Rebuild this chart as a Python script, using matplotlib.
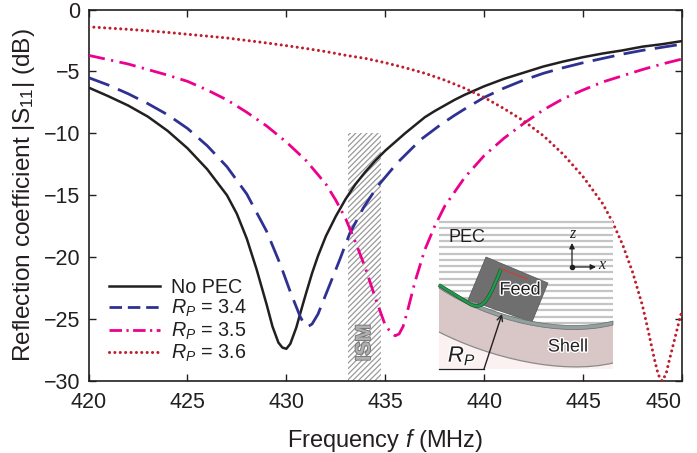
import matplotlib
matplotlib.use('Agg')
import matplotlib.pyplot as plt
import matplotlib.patheffects as pe
from matplotlib.patches import Rectangle, Polygon, PathPatch
from matplotlib.path import Path

plt.rcParams['font.family'] = ['Liberation Sans', 'DejaVu Sans']
plt.rcParams['mathtext.fontset'] = 'custom'
plt.rcParams['mathtext.rm'] = 'Liberation Sans'
plt.rcParams['mathtext.it'] = 'Liberation Sans:italic'
plt.rcParams['hatch.linewidth'] = 0.9

x_ticks = [420, 425, 430, 435, 440, 445, 450]
y_ticks = [0, -5, -10, -15, -20, -25, -30]

f_nopec = [420, 421, 422, 423, 424, 425, 426, 427, 427.5, 428, 428.5, 429, 429.3, 429.6, 429.8, 430, 430.2, 430.5, 430.8, 431, 431.3, 431.6,
           432, 432.5, 433, 433.5, 434, 434.5, 435, 435.5, 436, 436.5, 437, 437.5, 438, 438.5, 439, 439.5, 440, 441, 442, 443, 444, 445, 446, 447, 448, 449, 450]
s_nopec = [-6.3, -7.0, -7.75, -8.65, -9.8, -11.2, -12.9, -15.0, -16.5, -18.5, -21.0, -23.8, -25.6, -26.9, -27.3, -27.4, -27.0, -25.7, -24.0, -22.9, -21.3, -19.9,
           -18.3, -16.7, -15.3, -14.1, -13.1, -12.2, -11.4, -10.7, -10.0, -9.35, -8.7, -8.2, -7.75, -7.3, -6.9, -6.55, -6.2, -5.6, -5.1, -4.6, -4.2, -3.85, -3.55, -3.3, -3.0, -2.8, -2.55]

f_34 = [420, 421, 422, 423, 424, 425, 426, 427, 428, 429, 429.7, 430.2, 430.7, 430.9, 431.1, 431.3, 431.6, 432, 432.7, 433.2,
        433.9, 434.6, 435.6, 436.8, 437.8, 438.5, 439, 440, 441, 442, 443, 444, 445, 446, 447, 448, 449, 450]
s_34 = [-5.5, -6.1, -6.8, -7.6, -8.5, -9.6, -11.0, -12.7, -14.9, -17.9, -20.6, -22.8, -24.8, -25.4, -25.6, -25.4, -24.6, -23.0, -20.2, -18.1,
        -16.0, -14.3, -12.4, -10.5, -9.3, -8.55, -8.05, -7.1, -6.35, -5.7, -5.15, -4.7, -4.3, -3.95, -3.6, -3.3, -3.05, -2.8]

f_35 = [420, 421, 422, 423, 424, 425, 426, 427, 428, 429, 430, 431, 432, 432.5, 433, 433.5, 434, 434.5, 435, 435.3, 435.5, 435.7, 435.9,
        436.1, 436.5, 437, 437.5, 438, 439, 440, 441, 442, 443, 444, 445, 446, 447, 448, 449, 450]
s_35 = [-3.7, -4.05, -4.4, -4.85, -5.3, -5.8, -6.5, -7.3, -8.3, -9.4, -10.7, -12.2, -14.1, -15.4, -16.9, -18.8, -20.9, -23.3, -25.5, -26.1, -26.35, -26.2, -25.6,
        -24.5, -22.0, -19.4, -17.5, -15.9, -13.6, -11.8, -10.4, -9.2, -8.1, -7.2, -6.5, -5.85, -5.35, -4.85, -4.4, -4.0]

f_36 = [420, 421, 422, 423, 424, 425, 426, 427, 428, 429, 430, 431, 432, 433, 434, 435, 436, 437, 438, 439, 440, 441, 442, 443, 444, 445, 446,
        446.5, 447, 447.5, 448, 448.3, 448.6, 448.8, 449, 449.2, 449.3, 449.6, 449.85, 450]
s_36 = [-1.4, -1.5, -1.6, -1.72, -1.85, -2.0, -2.15, -2.3, -2.5, -2.7, -2.92, -3.15, -3.4, -3.7, -3.95, -4.3, -4.7, -5.15, -5.7, -6.35, -7.1, -8.0, -9.0, -10.2, -11.7, -13.5, -15.7,
        -17.2, -19.0, -21.2, -23.9, -26.0, -28.2, -29.5, -30.0, -29.4, -28.7, -26.8, -25.2, -24.3]

ism_band = [433.1, 434.8]
ism_levels = [-30, -10]

legend_labels = ['No PEC', r'$R_P$ = 3.4', r'$R_P$ = 3.5', r'$R_P$ = 3.6']

fig = plt.figure(figsize=(6.97, 4.53), dpi=100)
W, H = 697, 453
ax = fig.add_axes([88.5 / W, 1 - 381 / H, (682 - 88.5) / W, (381 - 9.5) / H])

ax.add_patch(Rectangle((ism_band[0], ism_levels[0]), ism_band[1] - ism_band[0], ism_levels[1] - ism_levels[0],
                       facecolor='white', edgecolor='#9a9a9a', hatch='//////', lw=0, zorder=1))
ax.text(sum(ism_band) / 2, -26.9, 'ISM', rotation=90, ha='center', va='center', fontsize=15, fontweight='bold',
        color='#b0b0b0', zorder=2, path_effects=[pe.withStroke(linewidth=1.2, foreground='#707070')])

ax.plot(f_nopec, s_nopec, color='#231f20', lw=1.8, label=legend_labels[0], zorder=3)
ax.plot(f_34, s_34, color='#2e3192', lw=2.0, ls=(0, (8, 3.4)), label=legend_labels[1], zorder=3)
ax.plot(f_35, s_35, color='#ec008c', lw=2.0, ls=(0, (6, 2.3, 0.8, 2.3)), label=legend_labels[2], zorder=3)
ax.plot(f_36, s_36, color='#be1e2d', lw=2.2, ls=(0, (0.01, 1.75)), dash_capstyle='round', label=legend_labels[3], zorder=3)

ax.set_xlim(420, 450)
ax.set_ylim(-30, 0)
ax.set_xticks(x_ticks)
ax.set_yticks(y_ticks)
ax.tick_params(direction='in', top=True, right=True, length=5, width=1, labelsize=15.5, colors='#231f20')
ax.tick_params(axis='x', pad=8)
ax.tick_params(axis='y', pad=6)
ax.get_xticklabels()[-1].set_ha('right')
for sp in ax.spines.values():
    sp.set_linewidth(1.2)
    sp.set_color('#231f20')

ax.set_xlabel('Frequency $f$ (MHz)', fontsize=17, color='#231f20')
ax.set_ylabel('Reflection coefficient |S$_{11}$| (dB)', fontsize=17.6, color='#231f20')
ax.xaxis.set_label_coords((385 - 88.5) / 593.5, -(440 - 381) / 371.5)
ax.xaxis.label.set_va('center')
ax.yaxis.set_label_coords(-(88.5 - 24) / 593.5, (381 - 195) / 371.5)
ax.yaxis.label.set_va('center')

leg = ax.legend(loc='lower left', bbox_to_anchor=(-11 / 593.5, -15 / 371.5), frameon=False, fontsize=14.2, handlelength=2.6,
                handletextpad=0.55, labelspacing=0.06, borderaxespad=1.2, labelcolor='#231f20')
leg.get_lines()[1].set_linestyle((0, (4.5, 2.1)))
leg.get_lines()[2].set_linestyle((0, (4.5, 1.6, 0.8, 1.6)))

# inset sketch, drawn in image pixels
inset = fig.add_axes([0, 0, 1, 1], zorder=5)
inset.set_xlim(0, W)
inset.set_ylim(H, 0)
inset.axis('off')
inset.patch.set_alpha(0)

inset.add_patch(Rectangle((439, 221), 174, 148, facecolor='white', edgecolor='none', zorder=0))
y = 222
while y < 332:
    inset.plot([439, 613], [y, y], color='#c4c4c4', lw=1.6, solid_capstyle='butt', zorder=0.5)
    y += 6.3

band_top = [(439, 284), (490, 318), (562, 334), (613, 321)]
shell_top = [(439, 288), (490, 322), (562, 338), (613, 325)]
shell_bot = [(613, 363), (562, 375), (490, 358), (439, 332)]
closed = [Path.MOVETO, Path.CURVE4, Path.CURVE4, Path.CURVE4, Path.LINETO, Path.CURVE4, Path.CURVE4, Path.CURVE4, Path.CLOSEPOLY]
arc = [Path.MOVETO, Path.CURVE4, Path.CURVE4, Path.CURVE4]

v = shell_bot + [(439, 369), (613, 369), (613, 363)]
c = arc + [Path.LINETO, Path.LINETO, Path.CLOSEPOLY]
inset.add_patch(PathPatch(Path(v, c), facecolor='#fbf1f1', edgecolor='none', zorder=1))
inset.add_patch(PathPatch(Path(shell_top + shell_bot + [shell_top[0]], closed), facecolor='#d9c6c6', edgecolor='none', zorder=1))
inset.add_patch(PathPatch(Path(shell_bot, arc), fill=False, edgecolor='#8a8a8a', lw=0.9, zorder=1.1))

inset.add_patch(Polygon([(486, 257), (548, 283), (532, 322), (468, 300)], closed=True, facecolor='#6f6f6f',
                        edgecolor='#555555', lw=0.5, zorder=1.2))
inset.add_patch(PathPatch(Path(band_top + shell_top[::-1] + [band_top[0]], closed), facecolor='#93a0a0',
                          edgecolor='#6a6a6a', lw=0.5, zorder=1.3))
green = [(439, 285), (470, 304), (484, 312), (490, 296), (501, 269)]
inset.add_patch(PathPatch(Path(green, [Path.MOVETO, Path.LINETO, Path.CURVE4, Path.CURVE4, Path.CURVE4]), fill=False,
                          edgecolor='#1d9b4b', lw=1.8, zorder=1.4,
                          path_effects=[pe.withStroke(linewidth=2.6, foreground='#24482f')]))
inset.plot([501, 527], [269, 279], color='#d8392b', lw=0.8, zorder=1.4)

halo = [pe.withStroke(linewidth=2, foreground='white')]
inset.text(467, 237, 'PEC', fontsize=13, ha='center', va='center', color='#231f20', zorder=3)
inset.text(520, 290, 'Feed', fontsize=13, ha='center', va='center', color='#231f20', path_effects=halo, zorder=3)
inset.text(568, 347, 'Shell', fontsize=13, ha='center', va='center', color='#231f20', path_effects=halo, zorder=3)
inset.text(462, 356, '$R_P$', fontsize=16, ha='center', va='center', color='#231f20', path_effects=halo, zorder=3)

inset.plot([439, 484], [369, 369], color='#231f20', lw=0.9, zorder=3)
inset.annotate('', xy=(502, 314), xytext=(484, 369), zorder=3,
               arrowprops=dict(arrowstyle='->', color='#231f20', lw=1.0, shrinkA=0, shrinkB=0))
inset.annotate('', xy=(572, 243), xytext=(572, 267), zorder=3,
               arrowprops=dict(arrowstyle='-|>', color='#231f20', lw=0.9, shrinkA=0, shrinkB=0, mutation_scale=8))
inset.annotate('', xy=(596, 267), xytext=(572, 267), zorder=3,
               arrowprops=dict(arrowstyle='-|>', color='#231f20', lw=0.9, shrinkA=0, shrinkB=0, mutation_scale=8))
inset.plot([572], [267], 'o', ms=3, color='#231f20', zorder=3)
inset.text(572, 234, 'z', family='Liberation Serif', style='italic', fontsize=11.5, ha='center', va='center', color='#231f20', zorder=3)
inset.text(602, 265, 'x', family='Liberation Serif', style='italic', fontsize=11.5, ha='center', va='center', color='#231f20', zorder=3)

fig.savefig('out.png', dpi=100)
